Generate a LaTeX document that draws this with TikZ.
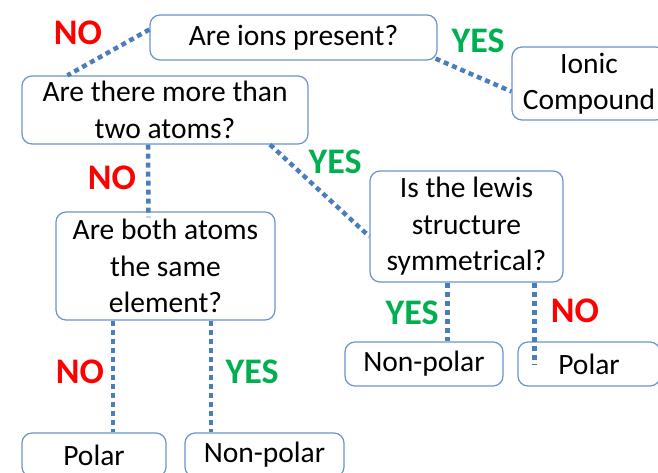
\documentclass[tikz,border=0pt]{standalone}
\usepackage{fontspec}
\setmainfont{Carlito}
\usetikzlibrary{positioning,calc}
\definecolor{boxc}{HTML}{6A93CC}
\definecolor{linkc}{HTML}{4A7EBB}
\definecolor{noc}{HTML}{FF0000}
\definecolor{yesc}{HTML}{00B050}
\tikzset{
  qbox/.style={draw=boxc, line width=1.2pt, rounded corners=10pt, inner sep=0pt, align=center, font=\fontsize{29.5}{36.5}\selectfont},
  link/.style={draw=linkc, line width=4.5pt, dash pattern=on 5pt off 4pt},
  nolbl/.style={text=noc, font=\fontsize{36}{40}\selectfont\bfseries},
  yeslbl/.style={text=yesc, font=\fontsize{36}{40}\selectfont\bfseries},
}
\begin{document}
\begin{tikzpicture}[x=1pt, y=-1pt]
  \useasboundingbox (0,0) rectangle (658,472);
  % question boxes
  \node[qbox, minimum width=287pt, minimum height=45pt] (ions) at (293.5,37.5) {Are ions present?};
  \node[qbox, minimum width=154pt, minimum height=73pt] (ionic) at (589,83.5) {Ionic\\Compound};
  \node[qbox, minimum width=286pt, minimum height=68pt] (more) at (165,110) {Are there more than\\two atoms?};
  \node[qbox, minimum width=219pt, minimum height=108pt] (both) at (165.5,266) {Are both atoms\\the same\\element?};
  \node[qbox, minimum width=193pt, minimum height=111pt] (lewis) at (466.5,226.5) {Is the lewis\\structure\\symmetrical?};
  % answers
  \node[qbox, minimum width=158pt, minimum height=44pt] (npr) at (424,364) {Non-polar};
  \node[qbox, minimum width=142pt, minimum height=44pt] (polr) at (589,364) {Polar};
  \node[qbox, minimum width=144pt, minimum height=44pt] (pl) at (94,455) {Polar};
  \node[qbox, minimum width=159pt, minimum height=44pt] (npl) at (264.5,455) {Non-polar};
  % links
  \draw[link] ([yshift=8pt]ions.west) -- ([xshift=46pt]more.north west);
  \draw[link] ([xshift=-2pt,yshift=2pt]ions.south east) -- ([yshift=-8pt]ionic.west);
  \draw[link] ([xshift=-17pt]more.south) -- ([xshift=-17pt,yshift=-6pt]both.north);
  \draw[link] ([xshift=105pt]more.south) -- ([yshift=-10pt]lewis.west);
  \draw[link] ([xshift=-19pt]lewis.south) -- ([xshift=-19pt]lewis.south |- npr.north);
  \draw[link] ([xshift=68pt]lewis.south) -- ([xshift=68pt]lewis.south |- polr.west);
  \draw[link] ([xshift=-52.5pt]both.south) -- ([xshift=-52.5pt]both.south |- pl.north);
  \draw[link] ([xshift=45.5pt]both.south) -- ([xshift=45.5pt]both.south |- npl.north);
  % yes / no labels
  \node[nolbl] (no1) at (78,33) {NO};
  \node[yeslbl] (yes1) at (478,41) {YES};
  \node[nolbl] (no2) at (112,178) {NO};
  \node[yeslbl] (yes2) at (335,162) {YES};
  \node[yeslbl] (yes3) at (412,313) {YES};
  \node[nolbl] (no3) at (575,311) {NO};
  \node[nolbl] (no4) at (80,372) {NO};
  \node[yeslbl] (yes4) at (252,372) {YES};
\end{tikzpicture}
\end{document}
